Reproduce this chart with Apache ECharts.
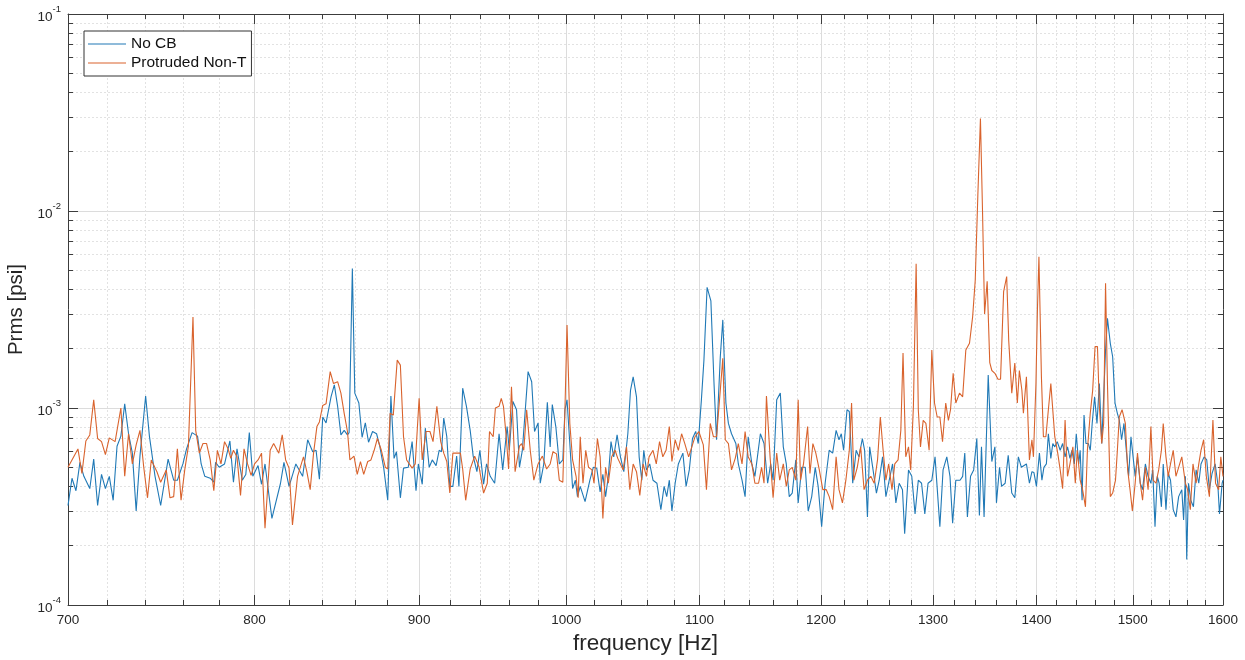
<!doctype html>
<html>
<head>
<meta charset="utf-8">
<title>Prms spectrum</title>
<script src="https://cdn.jsdelivr.net/npm/echarts@6/dist/echarts.min.js"></script>
</head>
<body style="margin:0;padding:0;background:#fff">
<div id="chart" style="width:1245px;height:660px;"></div>
<script>
// [frequency Hz, Prms psi]
var noCbSpectrum = [
  [700,3.2e-4],[702,4.4e-4],[704,3.8e-4],[706,5.3e-4],[708,4.5e-4],[711,3.9e-4],[713,5.5e-4],[715,3.2e-4],[717,4.6e-4],[719,3.9e-4],
  [721,4.5e-4],[723,3.4e-4],[725,6.4e-4],[727,7.2e-4],[729,1.05e-3],[731,7.4e-4],[733,5.9e-4],[735,3.0e-4],[737,5.7e-4],[740,1.15e-3],
  [742,7.2e-4],[745,4.5e-4],[748,3.2e-4],[752,5.5e-4],[755,4.3e-4],[757,4.3e-4],[760,5.2e-4],[762,6.2e-4],[765,7.5e-4],[768,7.2e-4],
  [770,5.2e-4],[772,4.5e-4],[775,4.4e-4],[777,4.2e-4],[778,5.3e-4],[780,5.0e-4],[783,5.2e-4],[786,6.8e-4],[788,4.2e-4],[790,6.2e-4],
  [793,4.3e-4],[795,4.6e-4],[797,7.5e-4],[799,4.5e-4],[802,5.1e-4],[804,4.1e-4],[806,5.2e-4],[810,2.75e-4],[815,4.15e-4],[817,5.3e-4],
  [820,4.0e-4],[824,5.2e-4],[828,4.5e-4],[831,6.9e-4],[834,6.0e-4],[836,6.1e-4],[838,4.35e-4],[840,9.0e-4],[842,8.4e-4],[845,1.14e-3],
  [847,1.31e-3],[849,1.02e-3],[851,7.3e-4],[853,7.7e-4],[855,7.3e-4],[856,7.5e-4],[858,5.1e-3],[859.5,1.19e-3],[862,1.06e-3],[864,7.1e-4],
  [866,8.4e-4],[868,6.7e-4],[870.5,7.6e-4],[873,7.4e-4],[875,6.4e-4],[877.5,4.95e-4],[880,3.4e-4],[882,1.15e-3],[884,5.55e-4],[885.5,6.0e-4],
  [888,3.5e-4],[890,4.95e-4],[893,5.0e-4],[895.5,6.75e-4],[898,3.8e-4],[899.5,5.2e-4],[902,4.1e-4],[904,7.9e-4],[906.5,5.0e-4],[908.5,5.45e-4],
  [911,5.1e-4],[913,6.1e-4],[914.5,6.0e-4],[916,8.9e-4],[918,7.15e-4],[920,4.0e-4],[922,4.0e-4],[924.5,5.7e-4],[926,4.0e-4],[928.5,1.26e-3],
  [931,1.02e-3],[933.5,7.7e-4],[935.5,5.7e-4],[938,4.75e-4],[940,6.1e-4],[942.5,4.1e-4],[944.5,5.2e-4],[947,4.5e-4],[950,4.15e-4],[953,7.4e-4],
  [955.5,4.85e-4],[958.5,8.05e-4],[960,6.1e-4],[962.5,1.08e-3],[965,9.8e-4],[967,5.0e-4],[969,6.1e-4],[973,1.53e-3],[975.5,1.36e-3],[977.5,7.6e-4],
  [980,8.4e-4],[981.5,4.15e-4],[984,5.2e-4],[986.5,1.07e-3],[988.5,6.35e-4],[990,1.04e-3],[992.5,8.05e-4],[995,5.2e-4],[997.5,5.45e-4],[999,9.8e-4],
  [1000.5,1.1e-3],[1002.5,6.6e-4],[1004.5,3.9e-4],[1006.5,4.3e-4],[1008,3.55e-4],[1010,4.0e-4],[1013.5,3.35e-4],[1017,4.3e-4],[1019.5,5.0e-4],[1022,4.95e-4],
  [1024.5,3.75e-4],[1026.5,4.6e-4],[1028.5,3.55e-4],[1030.5,4.5e-4],[1032.5,6.75e-4],[1034.5,5.65e-4],[1037,7.3e-4],[1039.5,5.65e-4],[1042,4.75e-4],[1045,7.4e-4],
  [1047,1.23e-3],[1049,1.44e-3],[1051.5,1.14e-3],[1053.5,5.65e-4],[1055.5,4.3e-4],[1057,6.1e-4],[1059,4.85e-4],[1061.5,5.2e-4],[1064,4.3e-4],[1067,4.15e-4],
  [1070,3.05e-4],[1072.5,4.0e-4],[1074.5,3.55e-4],[1076.5,4.3e-4],[1078.5,3.0e-4],[1081,4.15e-4],[1083.5,5.2e-4],[1087,5.9e-4],[1089.5,4.0e-4],[1092,4.85e-4],
  [1094.5,7.0e-4],[1097,7.6e-4],[1099,6.6e-4],[1101.5,1.1e-3],[1103.5,1.75e-3],[1106,4.1e-3],[1109,3.5e-3],[1111.5,1.33e-3],[1113.5,6.9e-4],[1116.5,1.82e-3],
  [1118.5,2.8e-3],[1121,1.06e-3],[1123,8.35e-4],[1125.5,7.4e-4],[1129,6.6e-4],[1131,5.2e-4],[1134,4.3e-4],[1136.5,3.55e-4],[1139,7.15e-4],[1142,5.2e-4],
  [1144.5,4.5e-4],[1149,7.4e-4],[1152,6.6e-4],[1155,4.15e-4],[1157.5,5.2e-4],[1159.5,4.3e-4],[1162.5,1.1e-3],[1165.5,1.19e-3],[1168,6.35e-4],[1170.5,5.2e-4],
  [1173,3.55e-4],[1175.5,3.7e-4],[1178.5,5.45e-4],[1180.5,3.3e-4],[1183.5,5.0e-4],[1186.5,5.0e-4],[1189,3.0e-4],[1192,3.55e-4],[1195,5.0e-4],[1197.5,4.0e-4],
  [1200.5,2.5e-4],[1203.5,4.15e-4],[1207,6.1e-4],[1210,5.9e-4],[1213,7.7e-4],[1215.5,6.9e-4],[1217.5,7.4e-4],[1219.5,6.1e-4],[1222.5,9.8e-4],[1224.5,9.6e-4],
  [1227.5,4.15e-4],[1230.5,6.1e-4],[1233,5.65e-4],[1236,7.0e-4],[1238,6.1e-4],[1240.5,2.8e-4],[1242.5,6.35e-4],[1245.5,4.85e-4],[1248.5,3.7e-4],[1251,4.3e-4],
  [1254,5.65e-4],[1257,3.55e-4],[1260,4.3e-4],[1263,5.2e-4],[1266,3.3e-4],[1269,4.15e-4],[1272,3.85e-4],[1274,2.3e-4],[1277.5,4.85e-4],[1280.5,4.5e-4],
  [1283.5,2.9e-4],[1286.5,4.3e-4],[1289.5,4.15e-4],[1292.5,2.9e-4],[1295.5,4.15e-4],[1299,4.3e-4],[1302,5.65e-4],[1306.5,2.5e-4],[1309.5,4.85e-4],[1313,5.65e-4],
  [1316,4.5e-4],[1318.5,2.6e-4],[1321.5,4.3e-4],[1325.5,4.3e-4],[1328,4.5e-4],[1330,5.9e-4],[1332.5,2.8e-4],[1335.5,4.5e-4],[1338.5,4.85e-4],[1341.5,7.0e-4],
  [1344,2.85e-4],[1346,6.35e-4],[1348.5,2.8e-4],[1352.5,1.47e-3],[1356,5.35e-4],[1359,6.35e-4],[1360.5,3.3e-4],[1363.5,5.0e-4],[1365.5,4.0e-4],[1369,4.15e-4],
  [1372,5.75e-4],[1375.5,3.7e-4],[1378.5,3.5e-4],[1382,5.65e-4],[1385,5.0e-4],[1390,5.2e-4],[1393,4.15e-4],[1395.5,4.75e-4],[1397.5,4.7e-4],[1400,4.0e-4],
  [1403,5.9e-4],[1405.5,4.3e-4],[1407.5,5.0e-4],[1410,5.2e-4],[1412,7.4e-4],[1414.5,5.55e-4],[1416.5,6.6e-4],[1418.5,6.35e-4],[1421,6.75e-4],[1424,6.1e-4],
  [1426.5,6.6e-4],[1429,5.65e-4],[1431.5,6.35e-4],[1434,5.55e-4],[1436,6.1e-4],[1438.5,5.2e-4],[1440.5,7.4e-4],[1443,5.2e-4],[1444.5,6.1e-4],[1446.5,3.4e-4],
  [1448.5,9.2e-4],[1450.5,6.6e-4],[1453,6.6e-4],[1455,6.1e-4],[1457,8.35e-4],[1459.5,1.14e-3],[1462,8.35e-4],[1464.5,1.33e-3],[1467,6.6e-4],[1469,1.14e-3],
  [1471,1.97e-3],[1473,2.85e-3],[1476,2.13e-3],[1478.5,1.82e-3],[1481,1.06e-3],[1483.5,9.4e-4],[1485.5,8.7e-4],[1488,6.9e-4],[1490.5,8.35e-4],[1493,6.1e-4],
  [1495.5,4.5e-4],[1498,7.15e-4],[1500,7.15e-4],[1502.5,4.5e-4],[1505,5.65e-4],[1508,4.15e-4],[1510.5,3.85e-4],[1513.5,5.2e-4],[1516.5,4.5e-4],[1519.5,4.15e-4],
  [1521.5,4.85e-4],[1524,2.5e-4],[1526.5,4.5e-4],[1528.5,4.15e-4],[1531,3.15e-4],[1533,5.2e-4],[1536,3.05e-4],[1538.5,4.65e-4],[1541,4.3e-4],[1544,3.05e-4],
  [1547,2.8e-4],[1550,3.55e-4],[1553.5,3.85e-4],[1555.5,2.7e-4],[1557.5,4.5e-4],[1559,1.7e-4],[1561,4.15e-4],[1563.5,3.4e-4],[1566.5,3.15e-4],[1569.5,4.85e-4],
  [1572.5,4.15e-4],[1575,5.2e-4],[1578.5,5.65e-4],[1581.5,5.45e-4],[1584.5,3.85e-4],[1587.5,4.65e-4],[1591,5.2e-4],[1594,4.15e-4],[1596,2.9e-4],[1599,4.15e-4],
  [1600,4.3e-4]
];

var protrudedSpectrum = [
  [700,5.0e-4],[702,5.45e-4],[705,6.2e-4],[707,4.65e-4],[709,6.8e-4],[711,7.3e-4],[713,1.1e-3],[715,7.0e-4],[717,6.75e-4],[719,5.8e-4],
  [721,7.05e-4],[724,6.75e-4],[727,1.0e-3],[729,4.5e-4],[731,7.4e-4],[733,5.2e-4],[735,6.5e-4],[737,7.7e-4],[739,5.0e-4],[741,3.5e-4],
  [743,5.45e-4],[746,4.75e-4],[748,4.2e-4],[751,4.85e-4],[753,3.5e-4],[755,3.55e-4],[757,6.2e-4],[759,3.4e-4],[761,4.85e-4],[763,6.4e-4],
  [765.5,2.9e-3],[767,7.7e-4],[769,5.9e-4],[771,6.6e-4],[773,6.6e-4],[775,5.45e-4],[777,3.8e-4],[779,6.1e-4],[781,5.2e-4],[783,6.75e-4],
  [785,6.2e-4],[786.5,5.55e-4],[788,6.1e-4],[790,5.65e-4],[792,3.6e-4],[794,6.2e-4],[796,5.2e-4],[798,4.55e-4],[800,5.2e-4],[802,5.45e-4],
  [804,5.9e-4],[806,2.45e-4],[809,6.1e-4],[811,6.6e-4],[814,5.9e-4],[816,7.3e-4],[818,5.45e-4],[820,4.95e-4],[822,2.55e-4],[825,4.5e-4],
  [828.5,5.65e-4],[830.5,4.75e-4],[832.5,3.85e-4],[834.5,5.9e-4],[836.5,8.05e-4],[838,8.5e-4],[840,1.03e-3],[842,1.05e-3],[844.5,1.53e-3],[846.5,1.33e-3],
  [849,1.36e-3],[851,1.19e-3],[853,9.4e-4],[855,7.6e-4],[856.5,5.45e-4],[859,5.7e-4],[861,4.6e-4],[863,5.35e-4],[865,4.6e-4],[867.5,5.35e-4],
  [869.5,5.45e-4],[871.5,6.1e-4],[873.5,7.0e-4],[876,6.1e-4],[878.5,5.0e-4],[880,4.9e-4],[881.5,9.4e-4],[883.5,9.2e-4],[886,1.75e-3],[888,1.65e-3],
  [890,7.15e-4],[892,5.45e-4],[895.5,4.95e-4],[897.5,5.2e-4],[900,1.12e-3],[902,5.45e-4],[904.5,7.6e-4],[907,7.6e-4],[909,6.75e-4],[911.5,1.02e-3],
  [914,6.75e-4],[916,5.9e-4],[918,5.35e-4],[920,3.7e-4],[922,5.9e-4],[925,5.9e-4],[927,5.9e-4],[928.5,4.9e-4],[930.5,3.4e-4],[933.5,4.9e-4],
  [936.5,5.7e-4],[939.5,5.0e-4],[942.5,3.7e-4],[945,4.15e-4],[946.5,7.6e-4],[949,7.15e-4],[950.5,1.0e-3],[953,1.02e-3],[954.5,1.12e-3],[956,1.02e-3],
  [958,7.0e-4],[959.5,4.9e-4],[961.5,1.28e-3],[964,4.75e-4],[967,6.4e-4],[968.5,6.6e-4],[970,6.1e-4],[972,9.8e-4],[974.5,6.1e-4],[977,4.3e-4],
  [980,5.2e-4],[983,5.7e-4],[986,4.9e-4],[988.5,5.2e-4],[990.5,6.0e-4],[993,5.85e-4],[995,4.3e-4],[997.5,4.2e-4],[999,9.8e-4],[1000.5,2.64e-3],
  [1002.5,8.35e-4],[1004.5,5.45e-4],[1007,4.5e-4],[1008.5,3.5e-4],[1010,7.15e-4],[1012,4.15e-4],[1014,6.1e-4],[1016,5.0e-4],[1018.5,4.85e-4],[1020,4.15e-4],
  [1022.5,7.0e-4],[1024.5,5.65e-4],[1026.5,2.75e-4],[1028.5,5.0e-4],[1030.5,4.15e-4],[1033,5.65e-4],[1035.5,6.1e-4],[1037.5,5.55e-4],[1039.5,5.2e-4],[1041.5,4.85e-4],
  [1044,6.35e-4],[1046.5,3.85e-4],[1049,5.2e-4],[1051.5,4.75e-4],[1054,3.6e-4],[1056.5,5.2e-4],[1059,4.5e-4],[1061,5.65e-4],[1064,6.1e-4],[1066.5,5.2e-4],
  [1069,6.75e-4],[1071.5,5.65e-4],[1074,6.1e-4],[1076.5,8.05e-4],[1078.5,5.35e-4],[1081,6.9e-4],[1083.5,6.1e-4],[1086,7.4e-4],[1088.5,6.6e-4],[1091.5,5.65e-4],
  [1094,6.35e-4],[1096.5,7.15e-4],[1099.5,7.6e-4],[1103,6.5e-4],[1105.5,3.85e-4],[1108.5,8.35e-4],[1111,7.15e-4],[1113.5,7.15e-4],[1116.5,1.23e-3],[1118.5,1.79e-3],
  [1120.5,6.9e-4],[1123,6.6e-4],[1125.5,4.85e-4],[1128.5,5.55e-4],[1131,6.6e-4],[1134,5.2e-4],[1136.5,7.6e-4],[1139,5.65e-4],[1142,5.2e-4],[1144.5,4.15e-4],
  [1147.5,4.15e-4],[1150,5.0e-4],[1152,4.15e-4],[1154,1.15e-3],[1157,5.65e-4],[1159.5,3.5e-4],[1162.5,5.9e-4],[1165,4.3e-4],[1168,5.2e-4],[1170.5,4.0e-4],
  [1173,4.85e-4],[1175.5,5.0e-4],[1178.5,4.3e-4],[1180.5,1.1e-3],[1182.5,4.3e-4],[1185,5.2e-4],[1188.5,8.05e-4],[1190.5,4.65e-4],[1193,6.6e-4],[1195.5,5.9e-4],
  [1198.5,4.85e-4],[1201.5,3.85e-4],[1204.5,3.85e-4],[1207,3.55e-4],[1210,3.05e-4],[1213,5.65e-4],[1215.5,3.85e-4],[1218.5,3.3e-4],[1221.5,4.3e-4],[1224.5,6.1e-4],
  [1226.5,1.06e-3],[1228.5,4.3e-4],[1231.5,5.0e-4],[1234.5,6.35e-4],[1237.5,3.85e-4],[1240.5,4.3e-4],[1243.5,4.5e-4],[1246.5,4.15e-4],[1249.5,5.45e-4],[1252,9.0e-4],
  [1254.5,6.1e-4],[1257,4.3e-4],[1259.5,5.2e-4],[1262.5,3.85e-4],[1265,5.2e-4],[1268,5.45e-4],[1270.5,7.7e-4],[1272.5,1.9e-3],[1275,5.65e-4],[1277.5,6.35e-4],
  [1279.5,4.85e-4],[1282,1.02e-3],[1284.5,5.4e-3],[1286.5,9.8e-4],[1288.5,6.35e-4],[1291,8.65e-4],[1293.5,8.35e-4],[1296.5,6.1e-4],[1299,1.97e-3],[1301.5,1.06e-3],
  [1304,9.0e-4],[1306.5,9.0e-4],[1309,6.75e-4],[1312,1.06e-3],[1314.5,8.65e-4],[1316.5,9.8e-4],[1319,1.5e-3],[1321.5,1.06e-3],[1325,1.19e-3],[1328,1.14e-3],
  [1331,1.97e-3],[1334.5,2.13e-3],[1337.5,2.9e-3],[1340,4.45e-3],[1342.5,1.2e-2],[1345,2.95e-2],[1347,1.0e-2],[1349,3.0e-3],[1351.5,4.4e-3],[1354,1.7e-3],
  [1356,1.55e-3],[1359,1.5e-3],[1362,1.4e-3],[1364.5,1.4e-3],[1367.5,3.9e-3],[1370.5,4.65e-3],[1372.5,2.2e-3],[1375.5,1.19e-3],[1378.5,1.69e-3],[1381,1.06e-3],
  [1383,1.55e-3],[1385.5,1.23e-3],[1387,9.4e-4],[1390,1.44e-3],[1393,5.45e-4],[1395.5,6.9e-4],[1397,5.65e-4],[1399.5,1.33e-3],[1401,3.15e-3],[1402.5,5.85e-3],
  [1405,1.44e-3],[1407,7.15e-4],[1409.5,7.15e-4],[1412,9.8e-4],[1414.5,1.33e-3],[1416.5,1.36e-3],[1418.5,7.15e-4],[1421.5,5.9e-4],[1424,4.85e-4],[1426.5,3.9e-4],
  [1429,8.7e-4],[1431.5,4.5e-4],[1434,5.2e-4],[1437,6.35e-4],[1439.5,4.15e-4],[1441.5,6.1e-4],[1444.5,4.3e-4],[1447,3.85e-4],[1450,3.15e-4],[1452,6.1e-4],
  [1455,9.4e-4],[1457.5,1.23e-3],[1460,2.05e-3],[1462.5,2.05e-3],[1464.5,1.02e-3],[1467,6.6e-4],[1469,8.35e-4],[1471,4.3e-3],[1473,1.33e-3],[1476,3.55e-4],
  [1478.5,3.7e-4],[1481.5,4.3e-4],[1483.5,6.1e-4],[1485.5,9.0e-4],[1488.5,9.8e-4],[1492,8.35e-4],[1494.5,4.85e-4],[1497,3.85e-4],[1499.5,3.0e-4],[1502.5,4.15e-4],
  [1505,5.9e-4],[1508,4.15e-4],[1510.5,3.4e-4],[1513.5,5.0e-4],[1516.5,3.85e-4],[1519.5,8.05e-4],[1522,4.3e-4],[1525,4.15e-4],[1528,4.85e-4],[1531,6.1e-4],
  [1533,8.35e-4],[1536,5.65e-4],[1538.5,4.5e-4],[1541,5.2e-4],[1544,6.1e-4],[1547,4.5e-4],[1550,5.0e-4],[1553.5,5.65e-4],[1557.5,4.15e-4],[1560,3.85e-4],
  [1563,3.05e-4],[1566,5.2e-4],[1569.5,4.15e-4],[1572.5,5.2e-4],[1575,6.1e-4],[1578,6.9e-4],[1581,4.5e-4],[1584.5,3.55e-4],[1588.5,8.7e-4],[1591.5,4.15e-4],
  [1595,3.85e-4],[1597.5,5.65e-4],[1600,4.5e-4]
];

var seriesNames = ['No CB', 'Protruded Non-T'];

// tick positions
var xMajor = [700, 800, 900, 1000, 1100, 1200, 1300, 1400, 1500, 1600];
var xMinor = [720, 740, 760, 780, 820, 840, 860, 880, 920, 940, 960, 980,
  1020, 1040, 1060, 1080, 1120, 1140, 1160, 1180, 1220, 1240, 1260, 1280,
  1320, 1340, 1360, 1380, 1420, 1440, 1460, 1480, 1520, 1540, 1560, 1580];
var yMajor = [1e-4, 1e-3, 1e-2, 1e-1];
var yMinor = [2e-4, 3e-4, 4e-4, 5e-4, 6e-4, 7e-4, 8e-4, 9e-4,
  2e-3, 3e-3, 4e-3, 5e-3, 6e-3, 7e-3, 8e-3, 9e-3,
  2e-2, 3e-2, 4e-2, 5e-2, 6e-2, 7e-2, 8e-2, 9e-2];

var font = "'Liberation Sans', Arial, sans-serif";
var axisColor = '#3c3c3c';
var textColor = '#262626';

// one axis per tick family; overlaid axes share the same log scale
function xAxisDef(pos, ticks, len, opts) {
  return Object.assign({
    type: 'log', logBase: 10, min: 700, max: 1600, position: pos,
    axisLine: { show: false, onZero: false, lineStyle: { color: axisColor } },
    axisTick: { show: true, inside: true, length: len, customValues: ticks, lineStyle: { color: axisColor } },
    axisLabel: { show: false },
    splitLine: { show: false }
  }, opts);
}
function yAxisDef(pos, ticks, len, opts) {
  return Object.assign({
    type: 'log', logBase: 10, min: 1e-4, max: 1e-1, position: pos,
    axisLine: { show: false, onZero: false, lineStyle: { color: axisColor } },
    axisTick: { show: true, inside: true, length: len, customValues: ticks, lineStyle: { color: axisColor } },
    axisLabel: { show: false },
    splitLine: { show: false }
  }, opts);
}

var chart = echarts.init(document.getElementById('chart'));

chart.setOption({
  animation: false,
  color: ['#2079b6', '#d9632d'],
  grid: { left: 68, right: 22, top: 14, bottom: 55, containLabel: false, outerBoundsMode: 'none' },
  legend: {
    data: seriesNames,
    orient: 'vertical',
    left: 84, top: 31,
    backgroundColor: '#fff',
    borderColor: '#333', borderWidth: 1, borderRadius: 0,
    padding: [5, 5, 5, 4],
    itemGap: 3, itemWidth: 38, itemHeight: 1,
    icon: 'rect',
    textStyle: { fontSize: 15.5, color: '#111', fontFamily: font },
    selectedMode: false
  },
  xAxis: [
    xAxisDef('bottom', xMajor, 10, {
      name: 'frequency [Hz]', nameLocation: 'middle', nameGap: 26,
      nameTextStyle: { fontSize: 22.5, color: textColor, fontFamily: font },
      axisLine: { show: true, onZero: false, lineStyle: { color: axisColor } },
      axisLabel: { show: true, customValues: xMajor, margin: 8, fontSize: 13.5, color: textColor, fontFamily: font,
        formatter: function (v) { return String(Math.round(v)); } },
      splitLine: { show: true, lineStyle: { color: '#dcdcdc', width: 1, type: 'solid' } }
    }),
    xAxisDef('bottom', xMinor, 5, {
      splitLine: { show: true, lineStyle: { color: '#e2e2e2', width: 1, type: [2, 2] } }
    }),
    xAxisDef('top', xMajor, 10, {
      axisLine: { show: true, onZero: false, lineStyle: { color: axisColor } }
    }),
    xAxisDef('top', xMinor, 5, {})
  ],
  yAxis: [
    yAxisDef('left', yMajor, 10, {
      name: 'Prms [psi]', nameLocation: 'middle', nameGap: 40, nameRotate: 90,
      nameTextStyle: { fontSize: 20.5, color: textColor, fontFamily: font },
      axisLine: { show: true, onZero: false, lineStyle: { color: axisColor } },
      axisLabel: {
        show: true, customValues: yMajor, margin: 7,
        formatter: function (v) { return '{b|10}{s|' + Math.round(Math.log10(v)) + '}'; },
        rich: {
          b: { fontSize: 13.5, color: textColor, fontFamily: font, padding: [6, 0, 0, 0] },
          s: { fontSize: 9.5, color: textColor, fontFamily: font, verticalAlign: 'top' }
        }
      },
      splitLine: { show: true, lineStyle: { color: '#dcdcdc', width: 1, type: 'solid' } }
    }),
    yAxisDef('left', yMinor, 5, {
      splitLine: { show: true, lineStyle: { color: '#e2e2e2', width: 1, type: [2, 2] } }
    }),
    yAxisDef('right', yMajor, 10, {
      axisLine: { show: true, onZero: false, lineStyle: { color: axisColor } }
    }),
    yAxisDef('right', yMinor, 5, {})
  ],
  series: [
    {
      name: seriesNames[0], type: 'line', xAxisIndex: 0, yAxisIndex: 0,
      data: noCbSpectrum, symbol: 'none', showSymbol: false, silent: true,
      lineStyle: { width: 1.1 }
    },
    {
      name: seriesNames[1], type: 'line', xAxisIndex: 0, yAxisIndex: 0,
      data: protrudedSpectrum, symbol: 'none', showSymbol: false, silent: true,
      lineStyle: { width: 1.1 }
    }
  ]
});
</script>
</body>
</html>
